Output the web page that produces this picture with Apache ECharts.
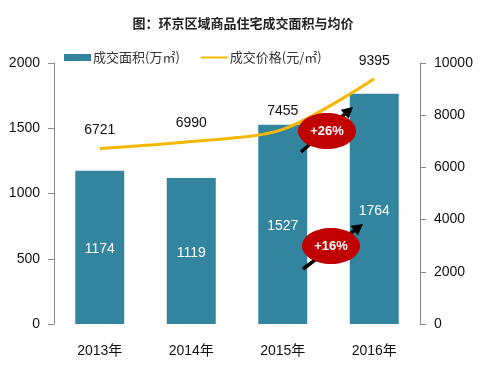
<!DOCTYPE html>
<html><head><meta charset="utf-8">
<style>html,body{margin:0;padding:0;background:#fff}#c{width:482px;height:370px}</style>
<script src="https://cdn.jsdelivr.net/npm/echarts@6/dist/echarts.min.js"></script>
</head><body><div id="c"></div>
<script>
const categories = ['2013年','2014年','2015年','2016年'];
const areaValues = [1174,1119,1527,1764];
const priceValues = [6721,6990,7455,9395];
const leftTicks = {min:0,max:2000,interval:500};
const rightTicks = {min:0,max:10000,interval:2000};
const font = '"Liberation Sans","Noto Sans CJK SC",sans-serif';
const cjk = '"Noto Sans CJK SC",sans-serif';
const axisCommon = {
  axisLine:{show:true,lineStyle:{color:'#888',width:1}},
  axisTick:{show:true,length:6,lineStyle:{color:'#888',width:1}},
  splitLine:{show:false},
  axisLabel:{color:'#111',fontSize:14,fontFamily:font,margin:14,formatter:v=>String(v)}
};
function arrow(x1,y1,x2,y2){
  const a=Math.atan2(y2-y1,x2-x1),L=11,W=6;
  const bx=x2-L*Math.cos(a),by=y2-L*Math.sin(a);
  const nx=-Math.sin(a)*W,ny=Math.cos(a)*W;
  return [
    {type:'line',z:50,shape:{x1,y1,x2:bx,y2:by},style:{stroke:'#000',lineWidth:3.5}},
    {type:'polygon',z:50,shape:{points:[[x2,y2],[bx+nx,by+ny],[bx-nx,by-ny]]},style:{fill:'#000'}}
  ];
}
function badge(cx,cy,t){
  return [
    {type:'ellipse',z:60,shape:{cx,cy,rx:29,ry:18},style:{fill:'#c00000'}},
    {type:'text',z:61,x:cx,y:cy,style:{text:t,fill:'#fff',font:'bold 13px '+font,align:'center',verticalAlign:'middle'}}
  ];
}
const chart = echarts.init(document.getElementById('c'),null,{renderer:'canvas'});
chart.setOption({
  animation:false,
  title:{text:'图：环京区域商品住宅成交面积与均价',left:238,top:12,textAlign:'center',
    textStyle:{fontSize:13,fontWeight:'bold',color:'#222',fontFamily:cjk}},
  legend:{left:59,top:46,itemGap:20,itemWidth:27,itemHeight:7,
    textStyle:{fontSize:13,color:'#333',fontFamily:cjk,padding:[2,0,0,-3]},
    data:[{name:'成交面积(万㎡)',icon:'rect'},{name:'成交价格(元/㎡)',itemStyle:{opacity:0}}]},
  grid:{left:54,right:62,top:63,bottom:46},
  xAxis:{type:'category',data:categories,axisLine:{show:false},axisTick:{show:false},
    axisLabel:{color:'#111',fontSize:14,fontFamily:font,margin:20}},
  yAxis:[
    Object.assign({type:'value',position:'left'},leftTicks,axisCommon),
    Object.assign({type:'value',position:'right'},rightTicks,axisCommon)
  ],
  series:[
    {name:'成交面积(万㎡)',type:'bar',yAxisIndex:0,data:areaValues,barWidth:49,
     itemStyle:{color:'#33849e'},
     label:{show:true,position:'inside',offset:[0,2],color:'#fff',fontSize:14,fontFamily:font}},
    {name:'成交价格(元/㎡)',type:'line',yAxisIndex:1,data:priceValues,smooth:0.3,
     symbol:'circle',symbolSize:0,showSymbol:true,lineStyle:{color:'#f5b800',width:3},itemStyle:{color:'#f5b800'},
     label:{show:true,position:'top',distance:11,color:'#111',fontSize:14,fontFamily:font}}
  ],
  graphic:[].concat(
    arrow(301,152,353,107),arrow(303,269,363,224),
    badge(327,131,'+26%'),badge(331,246,'+16%')
  )
});
</script></body></html>
